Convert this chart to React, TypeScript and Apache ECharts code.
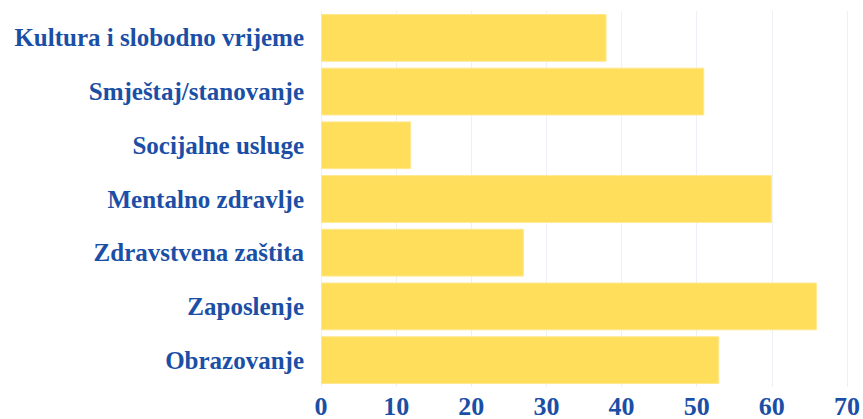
import React, { useEffect, useRef } from "react";
import * as echarts from "echarts";

const categories = [
  "Kultura i slobodno vrijeme",
  "Smještaj/stanovanje",
  "Socijalne usluge",
  "Mentalno zdravlje",
  "Zdravstvena zaštita",
  "Zaposlenje",
  "Obrazovanje",
];
const values = [38, 51, 12, 60, 27, 66, 53];
const xTicks = [0, 10, 20, 30, 40, 50, 60, 70];

const FONT = "'Liberation Serif', serif";
const BLUE = "#1b4fa6";

export default function App() {
  const ref = useRef<HTMLDivElement>(null);
  useEffect(() => {
    if (!ref.current) return;
    const chart = echarts.init(ref.current, null, { renderer: "svg" });
    chart.setOption({
      animation: false,
      grid: { left: 321, right: 14, top: 11, bottom: 29, containLabel: false },
      xAxis: {
        type: "value",
        min: xTicks[0],
        max: xTicks[xTicks.length - 1],
        interval: 10,
        axisLine: { show: false },
        axisTick: { show: false },
        splitLine: { show: true, lineStyle: { color: "#eef0f8", width: 1 } },
        axisLabel: {
          color: BLUE,
          fontFamily: FONT,
          fontWeight: "bold",
          fontSize: 26,
          margin: 6,
        },
      },
      yAxis: {
        type: "category",
        inverse: true,
        data: categories,
        axisLine: { show: false },
        axisTick: { show: false },
        axisLabel: {
          color: BLUE,
          fontFamily: FONT,
          fontWeight: "bold",
          fontSize: 25,
          margin: 17,
        },
      },
      series: [
        {
          type: "bar",
          data: values,
          barCategoryGap: "11%",
          itemStyle: { color: "#ffde5c", borderColor: "#ffe88f", borderWidth: 1 },
        },
      ],
    });
    return () => chart.dispose();
  }, []);
  return (
    <div
      ref={ref}
      style={{ position: "absolute", left: 0, top: 0, width: 863, height: 419 }}
    />
  );
}
